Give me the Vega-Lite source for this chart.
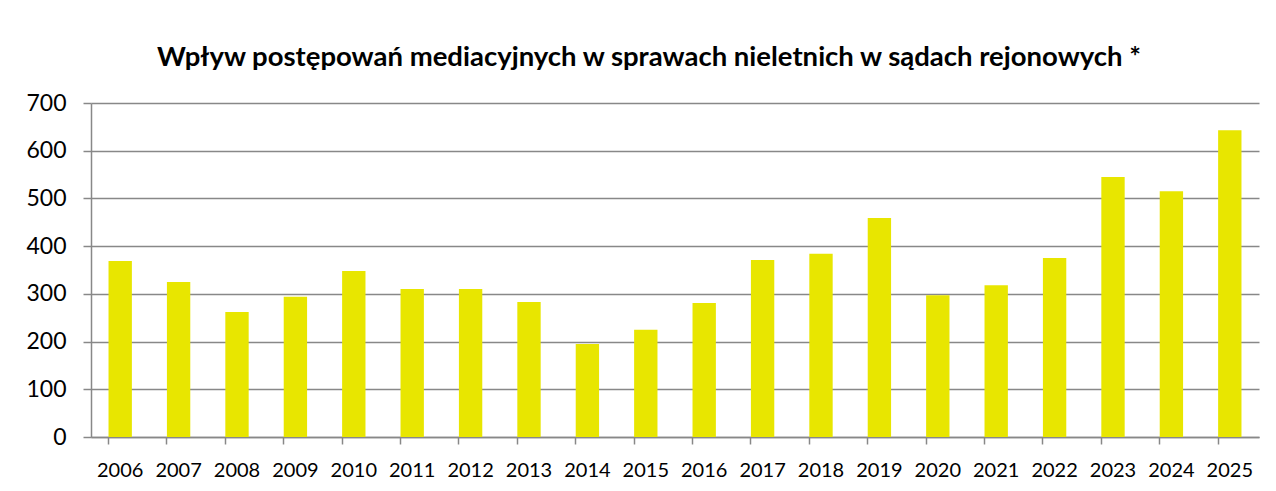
{
  "$schema": "https://vega.github.io/schema/vega-lite/v6.json",
  "width": 1168,
  "height": 334,
  "autosize": {"type": "none"},
  "padding": {"left": 91, "top": 103, "right": 17, "bottom": 54},
  "background": "white",
  "title": {
    "text": "Wpływ postępowań mediacyjnych w sprawach nieletnich w sądach rejonowych *",
    "font": "Lato",
    "fontSize": 27.5,
    "fontWeight": "bold",
    "color": "#000000",
    "anchor": "middle",
    "frame": "group",
    "dx": -26,
    "offset": 21
  },
  "data": {
    "values": [
      {"rok": "2006", "liczba": 369},
      {"rok": "2007", "liczba": 325},
      {"rok": "2008", "liczba": 262},
      {"rok": "2009", "liczba": 294},
      {"rok": "2010", "liczba": 348},
      {"rok": "2011", "liczba": 310},
      {"rok": "2012", "liczba": 310},
      {"rok": "2013", "liczba": 283},
      {"rok": "2014", "liczba": 195},
      {"rok": "2015", "liczba": 225},
      {"rok": "2016", "liczba": 281},
      {"rok": "2017", "liczba": 371},
      {"rok": "2018", "liczba": 384},
      {"rok": "2019", "liczba": 459},
      {"rok": "2020", "liczba": 297},
      {"rok": "2021", "liczba": 318},
      {"rok": "2022", "liczba": 375},
      {"rok": "2023", "liczba": 545},
      {"rok": "2024", "liczba": 515},
      {"rok": "2025", "liczba": 643}
    ]
  },
  "mark": {"type": "bar", "color": "#E8E600"},
  "encoding": {
    "x": {
      "field": "rok",
      "type": "ordinal",
      "scale": {"paddingInner": 0.6, "paddingOuter": 0.3},
      "axis": {
        "title": null,
        "labelAngle": 0,
        "labelFont": "Lato",
        "labelFontSize": 20,
        "labelColor": "#000000",
        "labelPadding": 16,
        "domainColor": "#888888",
        "domainWidth": 1.5,
        "tickColor": "#888888",
        "tickWidth": 1.5,
        "tickSize": 7,
        "bandPosition": 0,
        "grid": false
      }
    },
    "y": {
      "field": "liczba",
      "type": "quantitative",
      "scale": {"domain": [0, 700], "nice": false},
      "axis": {
        "title": null,
        "values": [0, 100, 200, 300, 400, 500, 600, 700],
        "labelFont": "Lato",
        "labelFontSize": 23,
        "labelColor": "#000000",
        "labelPadding": 17,
        "domainColor": "#888888",
        "domainWidth": 1.5,
        "tickColor": "#888888",
        "tickWidth": 1.5,
        "tickSize": 8,
        "grid": true,
        "gridColor": "#888888",
        "gridWidth": 1.5
      }
    }
  },
  "config": {
    "view": {"stroke": null}
  }
}
